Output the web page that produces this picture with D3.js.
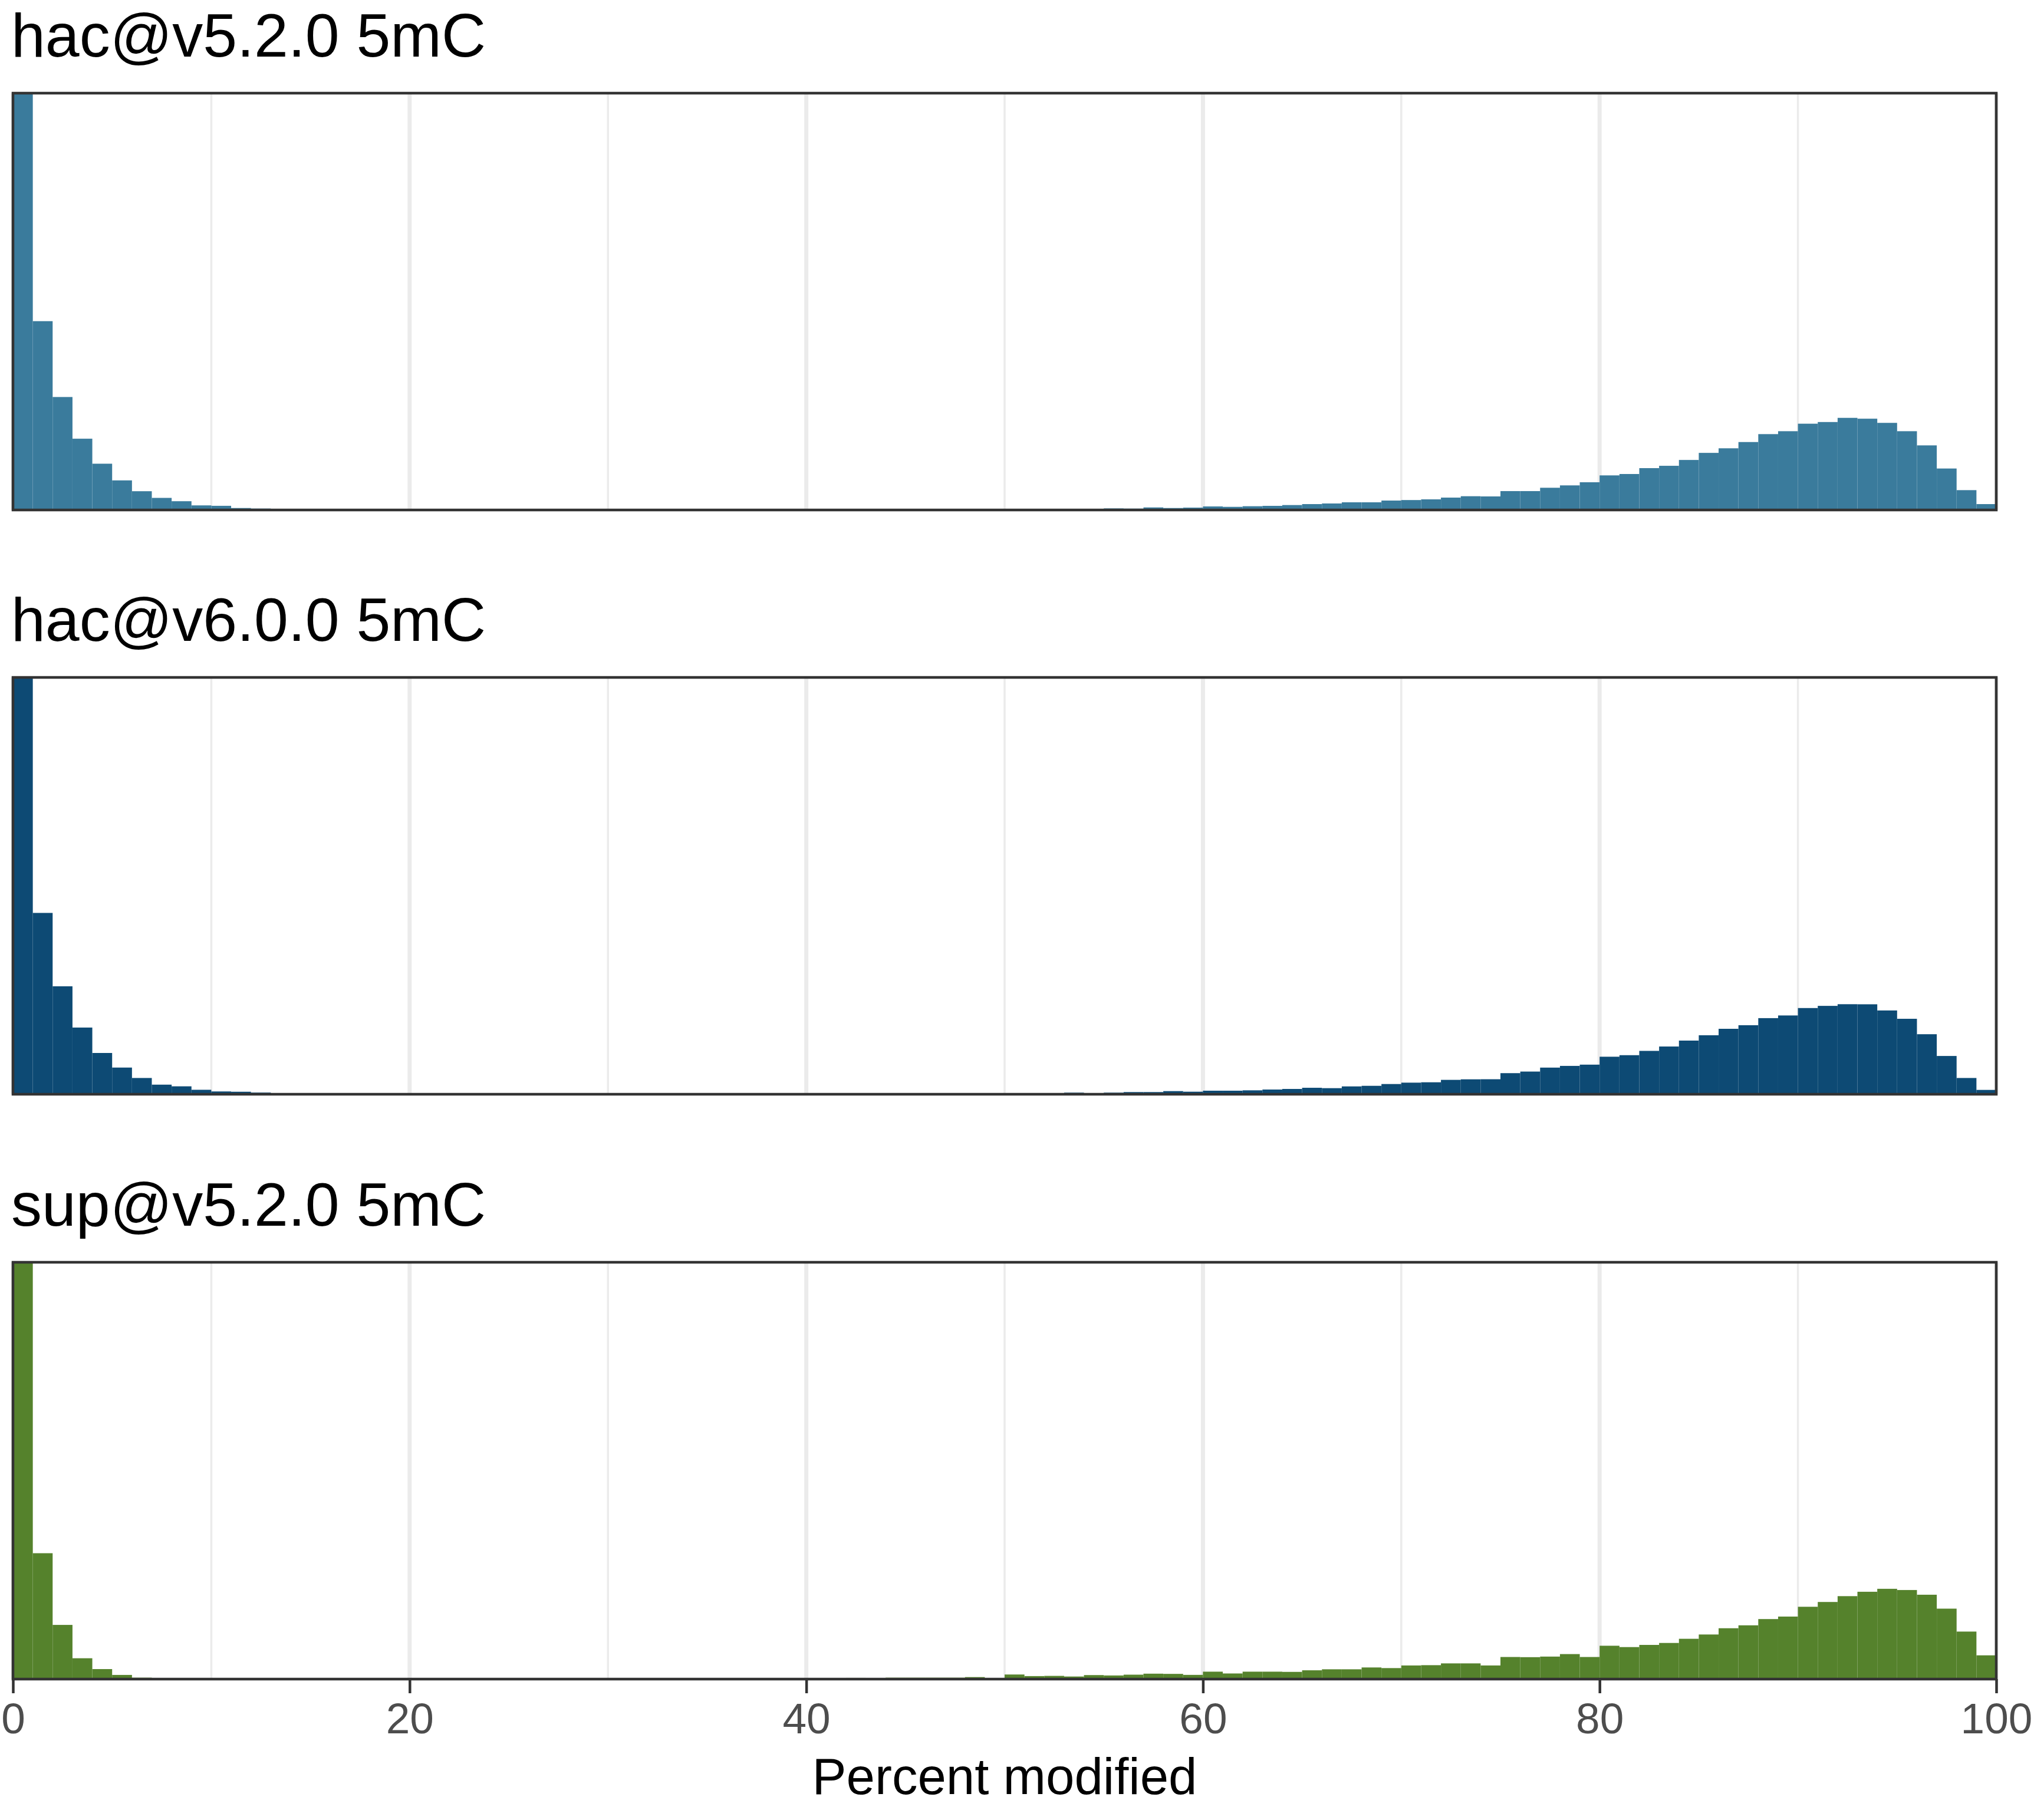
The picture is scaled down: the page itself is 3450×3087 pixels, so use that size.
<!DOCTYPE html>
<html>
<head>
<meta charset="utf-8">
<script src="https://cdn.jsdelivr.net/npm/d3@7"></script>
<style>
    body { margin: 0; background: #ffffff; }
    svg { display: block; }
</style>
</head>
<body>
<svg id="chart" width="3450" height="3087"></svg>
<script>
// histogram bins are 1 percent wide: 0-1, 1-2, ... 99-100
const binStarts = d3.range(0, 100);

const panelTitles = ["hac@v5.2.0 5mC", "hac@v6.0.0 5mC", "sup@v5.2.0 5mC"];
const panelColors = ["#3a7b9c", "#0d4a74", "#55822c"];

// relative bar heights (share of the panel height)
const hacV520 = [
    1.0, 0.453, 0.271, 0.171, 0.111, 0.071, 0.045, 0.029, 0.021, 0.011,
    0.010, 0.0047, 0.0034, 0.0020, 0.0014, 0.0010, 0.0008, 0.0006, 0.0005, 0.0005,
    0.0004, 0.0004, 0.0004, 0.0004, 0.0004, 0.0004, 0.0004, 0.0004, 0.0004, 0.0004,
    0.0004, 0.0004, 0.0004, 0.0004, 0.0004, 0.0004, 0.0004, 0.0004, 0.0004, 0.0004,
    0.0004, 0.0004, 0.0004, 0.0004, 0.0004, 0.0004, 0.0004, 0.0004, 0.0012, 0.0004,
    0.0019, 0.0019, 0.0008, 0.0019, 0.0014, 0.0038, 0.0033, 0.0061, 0.0047, 0.0057,
    0.0085, 0.0075, 0.0090, 0.0099, 0.0118, 0.0141, 0.0156, 0.0184, 0.0184, 0.0226,
    0.0238, 0.0255, 0.0297, 0.0330, 0.0325, 0.0453, 0.0453, 0.0533, 0.0590, 0.0665,
    0.083, 0.0863, 0.1004, 0.106, 0.120, 0.137, 0.148, 0.163, 0.182, 0.189,
    0.207, 0.211, 0.221, 0.219, 0.209, 0.189, 0.155, 0.0995, 0.0476, 0.0141
];

const hacV600 = [
    1.0, 0.435, 0.259, 0.160, 0.099, 0.064, 0.039, 0.023, 0.019, 0.0107,
    0.0067, 0.0060, 0.0040, 0.0027, 0.0015, 0.0013, 0.0008, 0.0006, 0.0004, 0.0004,
    0.0004, 0.0004, 0.0004, 0.0004, 0.0004, 0.0004, 0.0004, 0.0004, 0.0004, 0.0004,
    0.0004, 0.0004, 0.0004, 0.0004, 0.0004, 0.0004, 0.0004, 0.0004, 0.0004, 0.0004,
    0.0004, 0.0004, 0.0004, 0.0004, 0.0004, 0.0004, 0.0006, 0.0006, 0.0010, 0.0003,
    0.0028, 0.0010, 0.0010, 0.0038, 0.0028, 0.0038, 0.0052, 0.0052, 0.0075, 0.0061,
    0.0085, 0.0085, 0.0094, 0.0113, 0.0127, 0.0155, 0.0146, 0.0188, 0.0202, 0.0245,
    0.0278, 0.0287, 0.0345, 0.0358, 0.0360, 0.0506, 0.0544, 0.0639, 0.0680, 0.0710,
    0.090, 0.0937, 0.104, 0.1145, 0.1287, 0.1415, 0.157, 0.1656, 0.1826, 0.189,
    0.2068, 0.212, 0.216, 0.2158, 0.201, 0.181, 0.144, 0.0918, 0.039, 0.0104
];

const supV520 = [
    1.0, 0.302, 0.130, 0.050, 0.024, 0.010, 0.0034, 0.0013, 0.0006, 0.0003,
    0.0003, 0.0003, 0.0003, 0.0003, 0.0003, 0.0003, 0.0003, 0.0003, 0.0003, 0.0003,
    0.0003, 0.0003, 0.0003, 0.0003, 0.0003, 0.0003, 0.0003, 0.0003, 0.0003, 0.0003,
    0.0005, 0.0005, 0.0005, 0.0005, 0.0005, 0.0005, 0.0005, 0.0005, 0.0019, 0.0005,
    0.0024, 0.0010, 0.0029, 0.0014, 0.0034, 0.0034, 0.0034, 0.0034, 0.0048, 0.0003,
    0.0110, 0.0072, 0.0077, 0.0062, 0.0096, 0.0087, 0.0106, 0.0130, 0.0125, 0.0101,
    0.0178, 0.0135, 0.0178, 0.0178, 0.0173, 0.0211, 0.0235, 0.0235, 0.0279, 0.0264,
    0.0327, 0.0334, 0.0377, 0.0377, 0.0327, 0.0530, 0.0526, 0.0540, 0.0600, 0.0530,
    0.080, 0.0768, 0.082, 0.0867, 0.0967, 0.107, 0.122, 0.129, 0.144, 0.150,
    0.1735, 0.185, 0.199, 0.2095, 0.2166, 0.2137, 0.2024, 0.169, 0.114, 0.057
];

const panelValues = [hacV520, hacV600, supV520];

const xMajorTicks = [0, 20, 40, 60, 80, 100];
const xMinorTicks = [10, 30, 50, 70, 90];
const xTitle = "Percent modified";

const svg = d3.select("#chart");
const font = "'Liberation Sans', Arial, Helvetica, sans-serif";

const left = 22, right = 3386;
const panelHeight = 707;
const panelTops = [158, 1149, 2141];

const xScale = d3.scaleLinear().domain([0, 100]).range([left, right]);

svg.append("rect")
    .attr("width", 3450)
    .attr("height", 3087)
    .attr("fill", "#ffffff");

panelValues.forEach((values, p) => {
    const top = panelTops[p];
    const yScale = d3.scaleLinear()
        .domain([0, 1])
        .range([top + panelHeight, top]);

    const panel = svg.append("g").attr("class", "panel");

    panel.append("text")
        .attr("x", 19)
        .attr("y", top - 62)
        .attr("font-family", font)
        .attr("font-size", 104)
        .attr("fill", "#000000")
        .text(panelTitles[p]);

    // grid
    panel.selectAll(".minor")
        .data(xMinorTicks)
        .enter()
        .append("line")
        .attr("x1", d => xScale(d))
        .attr("x2", d => xScale(d))
        .attr("y1", top)
        .attr("y2", top + panelHeight)
        .attr("stroke", "#ebebeb")
        .attr("stroke-width", 3.5);

    panel.selectAll(".major")
        .data(xMajorTicks)
        .enter()
        .append("line")
        .attr("x1", d => xScale(d))
        .attr("x2", d => xScale(d))
        .attr("y1", top)
        .attr("y2", top + panelHeight)
        .attr("stroke", "#ebebeb")
        .attr("stroke-width", 7);

    panel.selectAll(".bar")
        .data(binStarts)
        .enter()
        .append("rect")
        .attr("class", "bar")
        .attr("x", d => xScale(d))
        .attr("width", d => xScale(d + 1) - xScale(d))
        .attr("y", d => yScale(Math.min(values[d], 1)))
        .attr("height", d => yScale(0) - yScale(Math.min(values[d], 1)))
        .attr("fill", panelColors[p]);

    panel.append("rect")
        .attr("x", left)
        .attr("y", top)
        .attr("width", right - left)
        .attr("height", panelHeight)
        .attr("fill", "none")
        .attr("stroke", "#333333")
        .attr("stroke-width", 4.5);

    if (p === panelValues.length - 1) {
        const xAxis = d3.axisBottom(xScale)
            .tickValues(xMajorTicks)
            .tickSize(24)
            .tickPadding(16);

        const axis = panel.append("g")
            .attr("transform", `translate(0,${top + panelHeight})`)
            .call(xAxis);

        axis.select(".domain").remove();
        axis.selectAll(".tick line")
            .attr("stroke", "#333333")
            .attr("stroke-width", 4.5);
        axis.selectAll(".tick text")
            .attr("font-family", font)
            .attr("font-size", 73)
            .attr("fill", "#4d4d4d");

        panel.append("text")
            .attr("x", (left + right) / 2)
            .attr("y", 3043)
            .attr("text-anchor", "middle")
            .attr("font-family", font)
            .attr("font-size", 87)
            .attr("fill", "#000000")
            .text(xTitle);
    }
});
</script>
</body>
</html>
